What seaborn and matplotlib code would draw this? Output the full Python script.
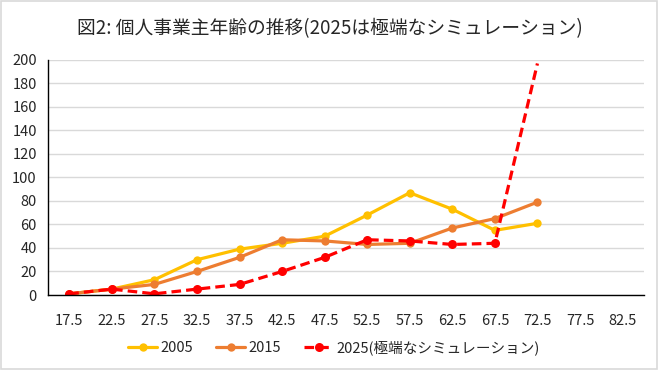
import numpy as np
import pandas as pd
import matplotlib
matplotlib.use('Agg')
import matplotlib.pyplot as plt
import seaborn as sns

# data
ages = ['17.5', '22.5', '27.5', '32.5', '37.5', '42.5', '47.5',
        '52.5', '57.5', '62.5', '67.5', '72.5', '77.5', '82.5']
v2005 = [1, 5, 13, 30, 39, 44, 50, 68, 87, 73, 55, 61]
v2015 = [1, 5, 9, 20, 32, 47, 46, 43, 44, 57, 65, 79]
v2025 = [1, 5, 1, 5, 9, 20, 32, 47, 46, 43, 44, 197]
labels = ['2005', '2015', '2025(極端なシミュレーション)']

sns.set_theme(style='white')
plt.rcParams['font.family'] = ['Noto Sans CJK JP', 'DejaVu Sans']

fig = plt.figure(figsize=(6.59, 3.70), dpi=100)
ax = fig.add_axes([0.0728, 0.2027, 0.9042, 0.6353])

pos = np.arange(len(ages))
df05 = pd.DataFrame({'x': pos[:len(v2005)], 'y': v2005})
df15 = pd.DataFrame({'x': pos[:len(v2015)], 'y': v2015})
df25 = pd.DataFrame({'x': pos[:len(v2025)], 'y': v2025})

sns.lineplot(data=df05, x='x', y='y', ax=ax, color='#FFC000', lw=2.3,
             marker='o', markersize=6, markeredgewidth=0, label=labels[0])
sns.lineplot(data=df15, x='x', y='y', ax=ax, color='#ED7D31', lw=2.3,
             marker='o', markersize=6, markeredgewidth=0, label=labels[1])
sns.lineplot(data=df25, x='x', y='y', ax=ax, color='#FF0000', lw=2.3,
             linestyle=(0, (3, 1.6)), marker='o', markersize=6.5,
             markeredgewidth=0, markevery=list(range(len(v2025) - 1)),
             label=labels[2])

ax.set_xlim(-0.5, len(ages) - 0.5)
ax.set_ylim(0, 200)
ax.set_yticks(range(0, 201, 20))
ax.set_xticks(pos)
ax.set_xticklabels(ages)
ax.set_xticks(np.arange(-0.5, len(ages), 1), minor=True)
ax.tick_params(axis='x', which='major', length=0, pad=14, labelsize=10.5)
ax.tick_params(axis='x', which='minor', length=5, width=1, color='black', direction='out')
ax.tick_params(axis='y', length=5, width=1, color='black', direction='out', labelsize=10.5, pad=3)
ax.set_xlabel('')
ax.set_ylabel('')
ax.grid(axis='y', color='#D9D9D9', lw=1)
ax.set_axisbelow(True)
for s in ['top', 'right']:
    ax.spines[s].set_visible(False)
for s in ['left', 'bottom']:
    ax.spines[s].set_color('black')
    ax.spines[s].set_linewidth(1)

ax.legend(loc='center', bbox_to_anchor=(0.48, -0.225), ncol=3, frameon=False,
          fontsize=10.5, handlelength=2, columnspacing=1.6, handletextpad=0.2)

fig.suptitle('図2: 個人事業主年齢の推移(2025は極端なシミュレーション)', y=0.95, fontsize=13.5)

fig.patches.append(plt.Rectangle((0.002, 0.003), 0.995, 0.994, transform=fig.transFigure,
                                 fill=False, edgecolor='#D9D9D9', lw=1.2))
fig.savefig('out.png', dpi=100)
